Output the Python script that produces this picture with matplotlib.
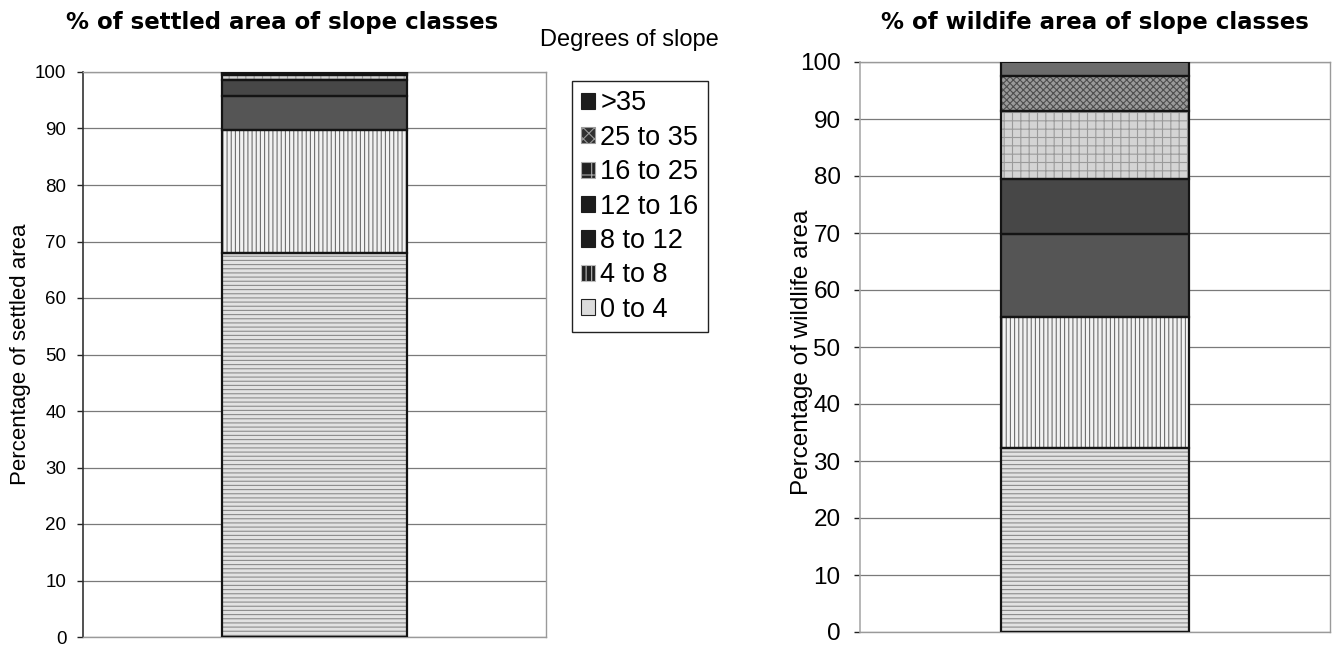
import matplotlib
matplotlib.use("Agg")
import matplotlib.pyplot as plt
from matplotlib.patches import Patch

# Slope classes (degrees) and share of area in each class (%)
classes = ["0 to 4", "4 to 8", "8 to 12", "12 to 16", "16 to 25", "25 to 35", ">35"]
settled_pct = [68.0, 21.7, 6.0, 2.8, 0.9, 0.4, 0.2]
wildlife_pct = [32.3, 23.0, 14.5, 9.7, 11.9, 6.2, 2.4]
yticks = list(range(0, 101, 10))

settled_title = "% of settled area of slope classes"
wildlife_title = "% of wildife area of slope classes"
settled_ylabel = "Percentage of settled area"
wildlife_ylabel = "Percentage of wildlife area"
legend_title = "Degrees of slope"

plt.rcParams["font.family"] = ["Liberation Sans", "DejaVu Sans"]
plt.rcParams["hatch.linewidth"] = 0.8

# face colour, hatch colour, hatch pattern per class
fills = [
    ("#e2e2e2", "#8c8c8c", "----"),
    ("#f2f2f2", "#6e6e6e", "||||"),
    ("#555555", "#555555", ""),
    ("#474747", "#474747", ""),
    ("#d4d4d4", "#9a9a9a", "++"),
    ("#9a9a9a", "#4e4e4e", "xxxxx"),
    ("#6c6c6c", "#6c6c6c", ""),
]
# legend swatches are small and read as dark squares
swatches = [
    ("#dcdcdc", "#222222", ""),
    ("#202020", "#bbbbbb", "|||"),
    ("#1c1c1c", "#1c1c1c", ""),
    ("#1c1c1c", "#1c1c1c", ""),
    ("#222222", "#aaaaaa", "+"),
    ("#303030", "#9a9a9a", "xxx"),
    ("#1c1c1c", "#1c1c1c", ""),
]

W, H = 1335, 645
fig = plt.figure(figsize=(W / 100, H / 100), dpi=100)


def px_axes(x0, x1, y0, y1):
    return fig.add_axes([x0 / W, 1 - y1 / H, (x1 - x0) / W, (y1 - y0) / H])


def stacked(ax, values, tick_size, label, label_size, left_spine_color, pad):
    ax.set_xlim(-0.5, 0.5)
    ax.set_ylim(0, 100)
    ax.set_yticks(yticks)
    ax.set_xticks([])
    ax.grid(axis="y", color="#7a7a7a", linewidth=0.9)
    ax.set_axisbelow(True)
    bottom = 0.0
    for v, (face, hc, hatch) in zip(values, fills):
        ax.bar(0, v, bottom=bottom, width=0.4, color=face, edgecolor=hc,
               hatch=hatch, linewidth=0, zorder=2)
        ax.bar(0, v, bottom=bottom, width=0.4, fill=False,
               edgecolor="#141414", linewidth=1.6, zorder=3)
        bottom += v
    for s in ("top", "right", "bottom"):
        ax.spines[s].set_color("#9a9a9a")
        ax.spines[s].set_linewidth(1.0)
    ax.spines["left"].set_color(left_spine_color)
    ax.spines["left"].set_linewidth(1.2)
    ax.tick_params(axis="y", direction="out", length=4, width=1,
                   color="#222222", labelsize=tick_size, pad=pad)
    ax.set_ylabel(label, fontsize=label_size)


ax1 = px_axes(83, 546, 72, 637)
stacked(ax1, settled_pct, 13.5, settled_ylabel, 16, "#333333", 8)
ax1.yaxis.set_label_coords(-0.112, 0.5)

ax2 = px_axes(860, 1330, 62, 632)
stacked(ax2, wildlife_pct, 17.5, wildlife_ylabel, 17.5, "#aaaaaa", 10)
ax2.yaxis.set_label_coords(-0.10, 0.49)

fig.text(282 / W, 1 - 22 / H, settled_title, ha="center", va="center",
         fontsize=16.5, fontweight="bold", family="DejaVu Sans")
fig.text(1095 / W, 1 - 22 / H, wildlife_title, ha="center", va="center",
         fontsize=16.5, fontweight="bold", family="DejaVu Sans")
fig.text(540 / W, 1 - 40 / H, legend_title, ha="left", va="center",
         fontsize=17)

handles = [Patch(facecolor=f, edgecolor=e, hatch=h, linewidth=0.8)
           for f, e, h in swatches]
leg = fig.legend(handles[::-1], classes[::-1], loc="upper left",
                 bbox_to_anchor=(572 / W, 1 - 81 / H), frameon=True,
                 fancybox=False, edgecolor="#222222", framealpha=1,
                 fontsize=19.5, handlelength=0.5, handleheight=0.55,
                 handletextpad=0.2, labelspacing=0.31, borderpad=0.35,
                 borderaxespad=0)
leg.get_frame().set_linewidth(1.0)

fig.savefig("out.png", dpi=100)
